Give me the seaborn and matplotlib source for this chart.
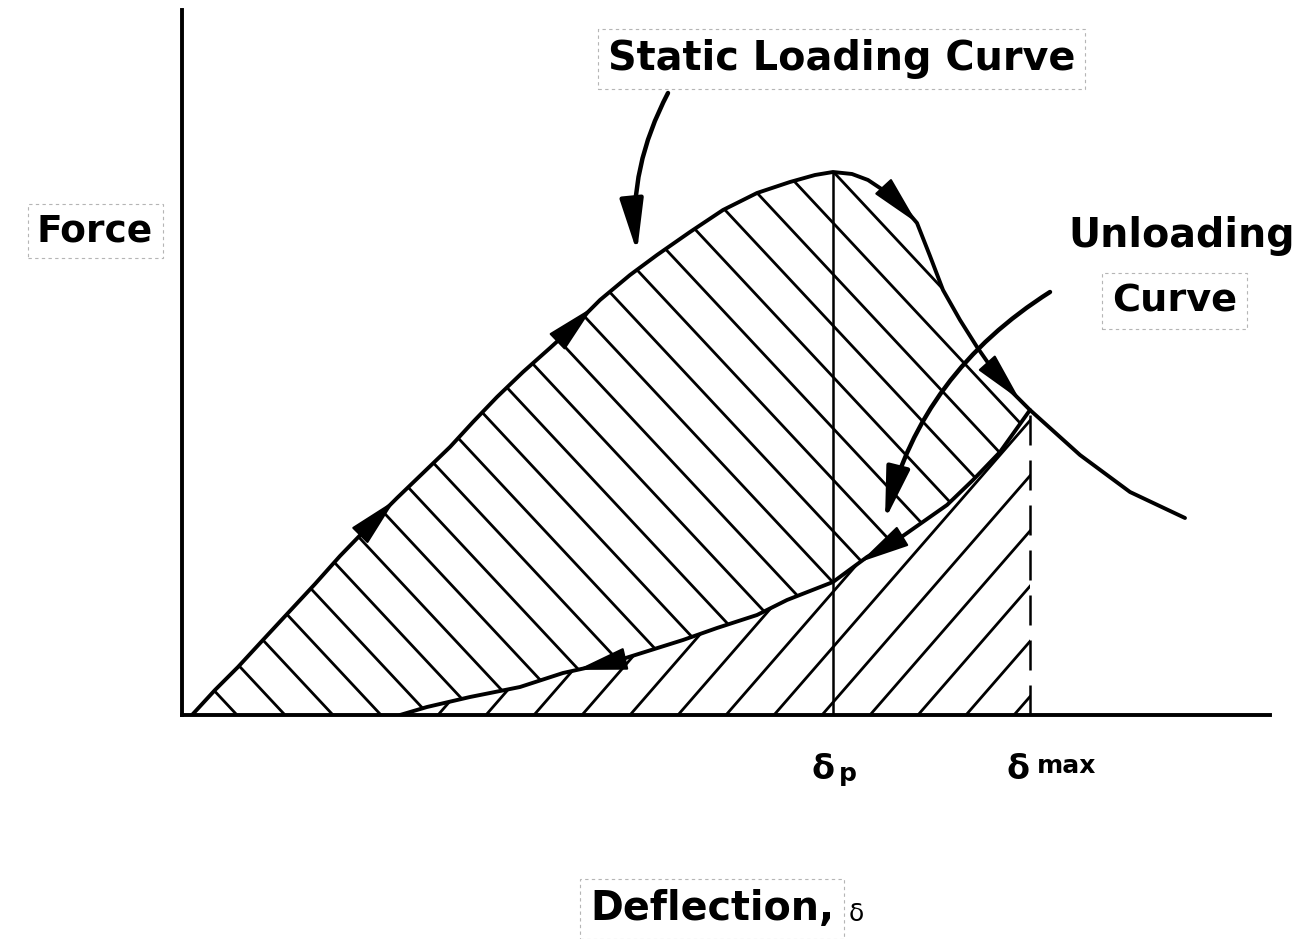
import numpy as np
import matplotlib
matplotlib.use("Agg")
import matplotlib.pyplot as plt
from matplotlib.patches import Polygon
from matplotlib.collections import LineCollection
import seaborn as sns

# Static loading curve: force against deflection
load_defl = [0.10, 0.33, 0.56, 0.80, 1.06, 1.33, 1.58, 1.88, 2.15, 2.41, 2.68,
             2.91, 3.15, 3.41, 3.68, 3.91, 4.18, 4.48, 4.75, 5.08, 5.41, 5.75,
             6.08, 6.33, 6.51, 6.70, 6.86, 7.01, 7.18, 7.35, 7.48, 7.61, 7.78,
             7.95, 8.18, 8.48, 8.98, 9.48, 10.03]
load_force = [0.00, 0.25, 0.48, 0.74, 1.02, 1.31, 1.59, 1.90, 2.17, 2.42, 2.68,
              2.93, 3.18, 3.43, 3.67, 3.88, 4.15, 4.40, 4.60, 4.83, 5.05, 5.22,
              5.33, 5.40, 5.43, 5.41, 5.35, 5.25, 5.12, 4.92, 4.59, 4.25, 3.95,
              3.68, 3.35, 3.05, 2.60, 2.23, 1.97]

# Unloading curve, from zero force up to the point reached at delta_max
unload_defl = [2.18, 2.45, 2.88, 3.38, 3.81, 4.31, 5.01, 5.35, 5.75, 6.05,
               6.51, 6.85, 7.18, 7.65, 7.91, 8.18, 8.48]
unload_force = [0.00, 0.08, 0.18, 0.28, 0.42, 0.53, 0.75, 0.87, 1.00, 1.15,
                1.33, 1.58, 1.77, 2.10, 2.35, 2.63, 3.05]

delta_p = 6.51
delta_max = 8.48

# direction arrows on the curves: (tip deflection, tail deflection)
load_arrows = [(2.13, 1.80), (4.11, 3.78), (7.35, 7.13), (8.38, 8.10)]
unload_arrows = [(6.78, 7.10), (3.95, 4.35)]

title_label = "Static Loading Curve"
force_label = "Force"
unload_label = ["Unloading", "Curve"]
x_label = "Deflection,"

sns.set_theme(style="white")
plt.rcParams["font.family"] = ["DejaVu Sans"]

W, H = 1313, 939
fig = plt.figure(figsize=(W / 100, H / 100), dpi=100)
fig.patch.set_facecolor("white")
ax = fig.add_axes([182 / W, (H - 715) / H, (1270 - 182) / W, (715 - 10) / H])
ax.set_xlim(0, 10.88)
ax.set_ylim(0, 7.05)
ax.set_xticks([])
ax.set_yticks([])
sns.despine(ax=ax)
for side in ("left", "bottom"):
    ax.spines[side].set_linewidth(2.8)
    ax.spines[side].set_color("black")
ax.set_facecolor("white")

ink = "black"

# hatching: region between loading and unloading ("\"), region under unloading ("/")
load_x = np.array(load_defl)
load_y = np.array(load_force)
un_x = np.array(unload_defl)
un_y = np.array(unload_force)

upper = [(x, y) for x, y in zip(load_x, load_y) if x <= delta_max + 1e-9]
upper += [(x, y) for x, y in zip(un_x[::-1], un_y[::-1])]
upper += [(load_x[0], 0.0)]
upper_patch = Polygon(upper, closed=True, fc="none", ec="none")
ax.add_patch(upper_patch)

lower = [(x, y) for x, y in zip(un_x, un_y)] + [(delta_max, 0.0)]
lower_patch = Polygon(lower, closed=True, fc="none", ec="none")
ax.add_patch(lower_patch)

spacing = 0.48
k_back, k_fwd = 1.07, 1.15
back_c = 0.55 + spacing * np.arange(-2, 30)
fwd_c = 6.40 - spacing * np.arange(-5, 16)
back_segs = [[(c - 8 / k_back, 8), (c, 0)] for c in back_c]
fwd_segs = [[(c, 0), (c + 8 / k_fwd, 8)] for c in fwd_c]
lc1 = LineCollection(back_segs, colors=ink, linewidths=2.0)
ax.add_collection(lc1)
lc1.set_clip_path(upper_patch)
lc2 = LineCollection(fwd_segs, colors=ink, linewidths=2.0)
ax.add_collection(lc2)
lc2.set_clip_path(lower_patch)

# curves
sns.lineplot(x=load_defl, y=load_force, ax=ax, color=ink, lw=2.8,
             sort=False, estimator=None)
sns.lineplot(x=unload_defl, y=unload_force, ax=ax, color=ink, lw=2.8,
             sort=False, estimator=None)

# delta_p and delta_max markers
ax.vlines(delta_p, 0, np.interp(delta_p, load_x, load_y), color=ink, lw=1.8)
ax.vlines(delta_max, 0, np.interp(delta_max, load_x, load_y), color=ink,
          lw=1.8, linestyles=(0, (12, 6)))

head = "-|>,head_length=1.6,head_width=0.36"


def curve_arrow(xs, ys, tip, tail):
    ax.annotate("", xy=(tip, np.interp(tip, xs, ys)),
                xytext=(tail, np.interp(tail, xs, ys)),
                arrowprops=dict(arrowstyle=head, color=ink, lw=1.5,
                                mutation_scale=20, shrinkA=0, shrinkB=0))


for tip, tail in load_arrows:
    curve_arrow(load_x, load_y, tip, tail)
for tip, tail in unload_arrows:
    curve_arrow(un_x, un_y, tip, tail)

# pointers from the labels to the curves
ax.annotate("", xy=(4.55, 4.63), xytext=(4.86, 6.22),
            arrowprops=dict(arrowstyle=head, color=ink, lw=3.2,
                            mutation_scale=20, shrinkA=0, shrinkB=0,
                            connectionstyle="arc3,rad=0.15"))
ax.annotate("", xy=(7.03, 1.95), xytext=(8.68, 4.23),
            arrowprops=dict(arrowstyle=head, color=ink, lw=3.2,
                            mutation_scale=20, shrinkA=0, shrinkB=0,
                            connectionstyle="arc3,rad=0.2"))

box = dict(boxstyle="square,pad=0.25", fc="none", ec="#b5b5b5",
           ls=(0, (3, 3)), lw=0.8)
bold = dict(fontweight="bold", color=ink)

fig.text(608 / W, 1 - 70 / H, title_label, fontsize=28.6, ha="left",
         va="baseline", bbox=box, **bold)
fig.text(37 / W, 1 - 241 / H, force_label, fontsize=27, ha="left",
         va="baseline", bbox=box, **bold)
fig.text(1068 / W, 1 - 247 / H, unload_label[0], fontsize=28.5, ha="left",
         va="baseline", **bold)
fig.text(1112 / W, 1 - 311 / H, unload_label[1], fontsize=27.5, ha="left",
         va="baseline", bbox=box, **bold)
fig.text(590 / W, 1 - 920 / H, x_label, fontsize=28.5, ha="left",
         va="baseline", bbox=box, **bold)
fig.text(849 / W, 1 - 921 / H, "δ", fontsize=18, ha="left", va="baseline",
         color=ink)

# tick labels for the two deflections
greek = dict(fontweight="bold", color=ink)
ax.annotate("δ", xy=(delta_p, 0), xytext=(-10, -64), textcoords="offset pixels",
            fontsize=24, ha="center", va="baseline", annotation_clip=False, **greek)
ax.annotate("p", xy=(delta_p, 0), xytext=(15, -66), textcoords="offset pixels",
            fontsize=18, ha="center", va="baseline", annotation_clip=False, **greek)
ax.annotate("δ", xy=(delta_max, 0), xytext=(-12, -64), textcoords="offset pixels",
            fontsize=24, ha="center", va="baseline", annotation_clip=False, **greek)
ax.annotate("max", xy=(delta_max, 0), xytext=(37, -58), textcoords="offset pixels",
            fontsize=18, ha="center", va="baseline", annotation_clip=False, **greek)

fig.savefig("out.png", dpi=100, facecolor="white")
